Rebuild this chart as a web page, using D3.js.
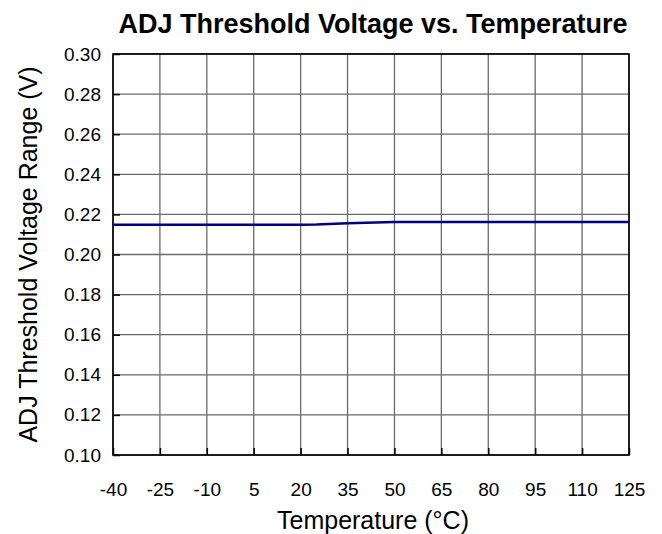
<!DOCTYPE html>
<html><head><meta charset="utf-8">
<script src="https://cdn.jsdelivr.net/npm/d3@7"></script>
<style>body{margin:0;background:#fff;} svg{display:block;}</style>
</head><body>
<svg id="chart" width="662" height="534"></svg>
<script>
const temperatures = [-40, -25, -10, 5, 20, 25, 35, 50, 65, 80, 95, 110, 125];
const voltages =     [0.2149, 0.2149, 0.2149, 0.2149, 0.2149, 0.2150, 0.2156, 0.2162, 0.2162, 0.2162, 0.2162, 0.2162, 0.2162];
const xTicks = [-40, -25, -10, 5, 20, 35, 50, 65, 80, 95, 110, 125];
const yTicks = [0.10, 0.12, 0.14, 0.16, 0.18, 0.20, 0.22, 0.24, 0.26, 0.28, 0.30];
const titleText = "ADJ Threshold Voltage vs. Temperature";
const xTitle = "Temperature (°C)";
const yTitle = "ADJ Threshold Voltage Range (V)";

const L = 113, R = 629, T = 54, B = 455;
const svg = d3.select("#chart");
const font = "'Liberation Sans', Arial, sans-serif";
const x = d3.scaleLinear().domain([-40, 125]).range([L, R]);
const y = d3.scaleLinear().domain([0.10, 0.30]).range([B, T]);

// grid
const g = svg.append("g");
g.selectAll(".vg").data(xTicks).join("line")
  .attr("x1", d => x(d)).attr("x2", d => x(d)).attr("y1", T).attr("y2", B)
  .attr("stroke", "#6a6a6a").attr("stroke-width", 1.3);
g.selectAll(".hg").data(yTicks).join("line")
  .attr("x1", L).attr("x2", R).attr("y1", d => y(d)).attr("y2", d => y(d))
  .attr("stroke", "#6a6a6a").attr("stroke-width", 1.3);

// axes with inward ticks
const xAxis = d3.axisBottom(x).tickValues(xTicks).tickSize(-7).tickPadding(28).tickFormat(d => String(d));
const yAxis = d3.axisLeft(y).tickValues(yTicks).tickSize(-7).tickPadding(12).tickFormat(d => d.toFixed(2));
const gx = svg.append("g").attr("transform", `translate(0,${B})`).call(xAxis);
const gy = svg.append("g").attr("transform", `translate(${L},0)`).call(yAxis);
[gx, gy].forEach(a => {
  a.select(".domain").remove();
  a.selectAll(".tick line").attr("stroke", "#000").attr("stroke-width", 1.5);
  a.selectAll("text").attr("font-family", font).attr("font-size", 19).attr("fill", "#000");
});

// frame
svg.append("rect").attr("x", L).attr("y", T).attr("width", R - L).attr("height", B - T)
  .attr("fill", "none").attr("stroke", "#000").attr("stroke-width", 1.6);

// line
const line = d3.line().x((d, i) => x(temperatures[i])).y(d => y(d));
svg.append("path").datum(voltages).attr("d", line)
  .attr("fill", "none").attr("stroke", "#000080").attr("stroke-width", 2.5);

// titles
svg.append("text").attr("x", 373).attr("y", 33).attr("text-anchor", "middle")
  .attr("font-family", font).attr("font-size", 27).attr("font-weight", "bold").text(titleText);
svg.append("text").attr("x", 373).attr("y", 529).attr("text-anchor", "middle")
  .attr("font-family", font).attr("font-size", 25).text(xTitle);
svg.append("text").attr("transform", `translate(37,${(T + B) / 2}) rotate(-90)`).attr("text-anchor", "middle")
  .attr("font-family", font).attr("font-size", 25).text(yTitle);
</script>
</body></html>
